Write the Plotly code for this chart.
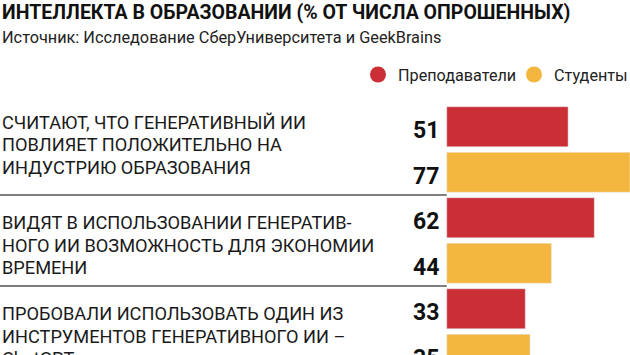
import plotly.graph_objects as go

# ---- data ----
categories = [
    ["СЧИТАЮТ, ЧТО ГЕНЕРАТИВНЫЙ ИИ", "ПОВЛИЯЕТ ПОЛОЖИТЕЛЬНО НА", "ИНДУСТРИЮ ОБРАЗОВАНИЯ"],
    ["ВИДЯТ В ИСПОЛЬЗОВАНИИ ГЕНЕРАТИВ-", "НОГО ИИ ВОЗМОЖНОСТЬ ДЛЯ ЭКОНОМИИ", "ВРЕМЕНИ"],
    ["ПРОБОВАЛИ ИСПОЛЬЗОВАТЬ ОДИН ИЗ", "ИНСТРУМЕНТОВ ГЕНЕРАТИВНОГО ИИ –", "ChatGPT"],
]
series_names = ["Преподаватели", "Студенты"]
teachers = [51, 62, 33]
students = [77, 44, 35]
title_text = "ИНТЕЛЛЕКТА В ОБРАЗОВАНИИ (% ОТ ЧИСЛА ОПРОШЕННЫХ)"
source_text = "Источник: Исследование СберУниверситета и GeekBrains"

# ---- style ----
RED = "#C92F35"
YELLOW = "#F3B740"
W, H = 630, 355
MT, MB = 104, 0
PLOT_H = H - MT - MB
LABEL_FONT = "Roboto, 'Noto Sans', sans-serif"
NUM_FONT = "Roboto, 'DejaVu Sans Condensed', sans-serif"

n = len(categories)
y_red = [2 * i for i in range(n)]
y_yel = [2 * i + 1 for i in range(n)]

def py(px):
    """pixel from top -> paper y"""
    return (H - MB - px) / PLOT_H

fig = go.Figure()
fig.add_trace(go.Bar(x=teachers, y=y_red, orientation="h", marker_color=RED,
                     width=0.88, showlegend=False, hoverinfo="x"))
fig.add_trace(go.Bar(x=students, y=y_yel, orientation="h", marker_color=YELLOW,
                     width=0.88, showlegend=False, hoverinfo="x"))
# legend entries as circles
for name, col in zip(series_names, [RED, YELLOW]):
    fig.add_trace(go.Scatter(x=[None], y=[None], mode="markers", name=name,
                             marker=dict(symbol="circle", size=16, color=col)))

annotations = []
# value labels
for vals, ys in ((teachers, y_red), (students, y_yel)):
    for v, yy in zip(vals, ys):
        annotations.append(dict(x=0, y=yy, xref="x", yref="y", text=f"<b>{v}</b>",
                                showarrow=False, xanchor="right", yanchor="middle",
                                xshift=-6, yshift=-4,
                                font=dict(family=NUM_FONT, size=23, color="#111")))
# category labels
offsets = [[-5.7, 17, 39.5], [4, 26.5, 48.5], [3.5, 26.5, 48.5]]
for i, lines in enumerate(categories):
    for k, line in enumerate(lines):
        annotations.append(dict(x=0, y=y_red[i], xref="paper", yref="y", text=line,
                                showarrow=False, xanchor="left", yanchor="middle",
                                xshift=0, yshift=-(offsets[i][k] + 1),
                                font=dict(family=LABEL_FONT, size=18.2, color="#1a1a1a")))
# title / source
annotations.append(dict(x=0, y=py(12.5), xref="paper", yref="paper", text=f"<b>{title_text}</b>",
                        showarrow=False, xanchor="left", yanchor="middle",
                        font=dict(family=LABEL_FONT, size=19.5, color="#111")))
annotations.append(dict(x=0, y=py(37), xref="paper", yref="paper", text=source_text,
                        showarrow=False, xanchor="left", yanchor="middle",
                        font=dict(family=LABEL_FONT, size=16.3, color="#222")))

x_max = max(max(teachers), max(students))
x_min = -187.7
shapes = []
for i in range(1, n):
    ysep = (y_yel[i - 1] + y_red[i]) / 2
    shapes.append(dict(type="line", xref="x", yref="y", x0=x_min, x1=0, y0=ysep, y1=ysep,
                       line=dict(color="#555", width=1.5)))

fig.update_layout(
    width=W, height=H,
    margin=dict(l=0, r=0, t=MT, b=MB, autoexpand=False),
    paper_bgcolor="white", plot_bgcolor="white",
    barmode="overlay",
    xaxis=dict(range=[x_min, x_max], visible=False, fixedrange=True),
    yaxis=dict(range=[5.016, -0.5], visible=False, fixedrange=True),
    showlegend=True,
    legend=dict(orientation="h", x=358 / W, y=py(75), xanchor="left", yanchor="middle",
                font=dict(family=LABEL_FONT, size=16.2, color="#222"),
                bgcolor="rgba(0,0,0,0)", itemwidth=30,
                entrywidth=111, entrywidthmode="pixels",
                itemclick=False, itemdoubleclick=False),
    annotations=annotations,
    shapes=shapes,
)

fig.write_html("out.html", config={"displayModeBar": False},
               post_script="document.body.style.margin='0';")
